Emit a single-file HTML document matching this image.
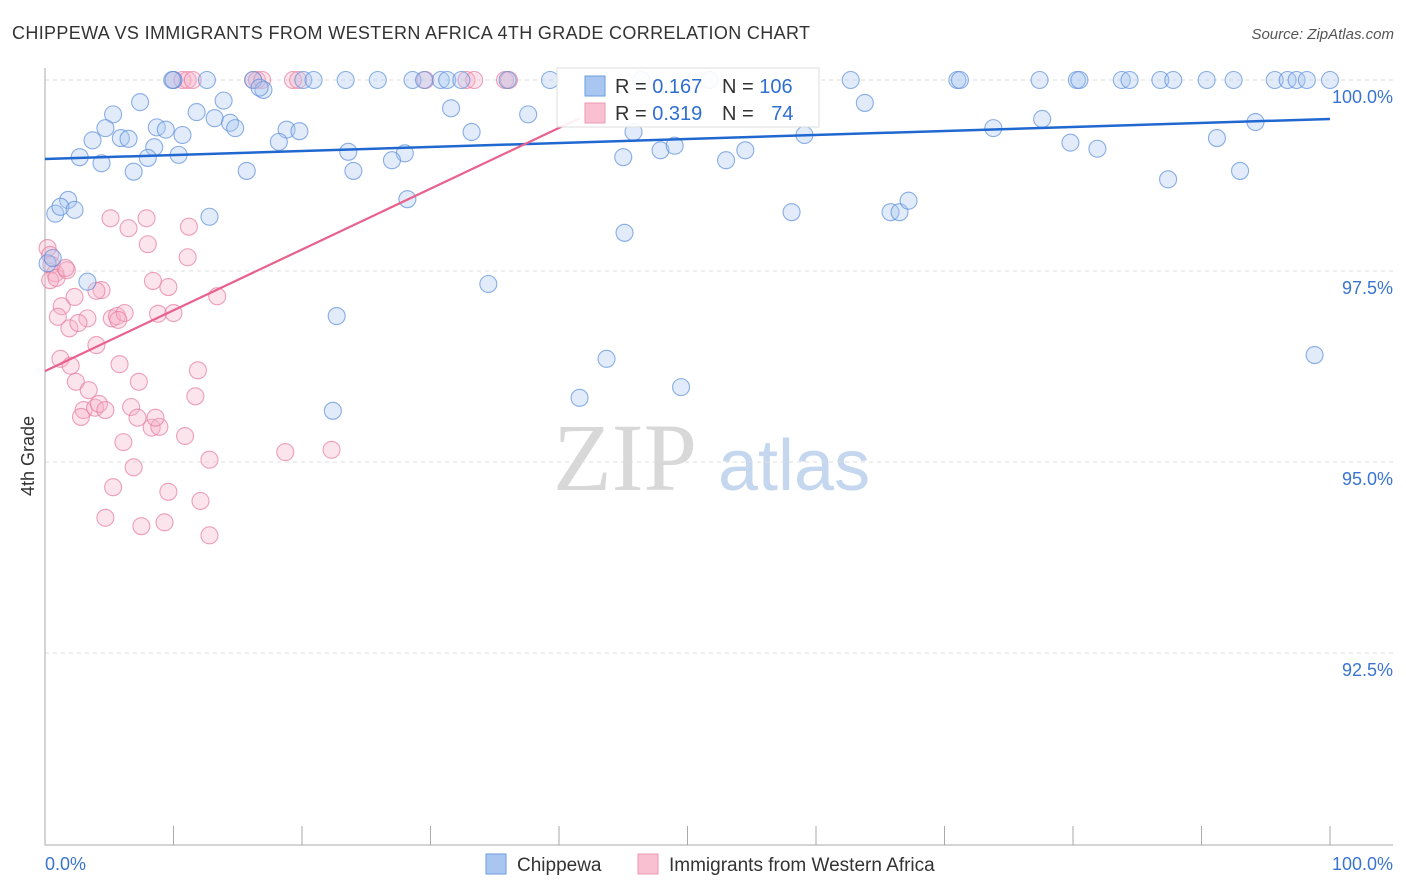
<!DOCTYPE html>
<html><head><meta charset="utf-8"><style>
body{margin:0;background:#fff;font-family:"Liberation Sans",sans-serif}
svg{display:block}
</style></head><body>
<svg width="1406" height="892" viewBox="0 0 1406 892" xmlns="http://www.w3.org/2000/svg">
<text x="12" y="39" font-size="18" fill="#333" textLength="798" lengthAdjust="spacing">CHIPPEWA VS IMMIGRANTS FROM WESTERN AFRICA 4TH GRADE CORRELATION CHART</text>
<text x="1394" y="39" font-size="15" fill="#555" text-anchor="end" font-style="italic">Source: ZipAtlas.com</text>
<g>
<text x="553" y="490" font-family="Liberation Serif,serif" font-size="96" fill="#d8d8d8">ZIP</text>
<text x="718" y="490" font-size="72" fill="#c5d7ee">atlas</text>
</g>
<g id="grid"></g>
<g id="axes"></g>
<g id="marks"></g>
<g>
<rect x="557" y="68" width="262" height="59" fill="#fff" fill-opacity="0.9" stroke="#ddd"/>
<rect x="585" y="76" width="20" height="20" fill="#a9c6f0" stroke="#6a9ee0"/>
<rect x="585" y="103" width="20" height="20" fill="#f8c0d0" stroke="#ee9ab4"/>
<text x="615" y="93" font-size="20" fill="#333">R = <tspan fill="#2f6fd0">0.167</tspan></text>
<text x="722" y="93" font-size="20" fill="#333">N = <tspan fill="#2f6fd0">106</tspan></text>
<text x="615" y="120" font-size="20" fill="#333">R = <tspan fill="#2f6fd0">0.319</tspan></text>
<text x="722" y="120" font-size="20" fill="#333">N = <tspan fill="#2f6fd0" dx="12">74</tspan></text>
</g>
<g>
<rect x="486" y="854" width="20" height="20" fill="#a9c6f0" stroke="#6a9ee0"/>
<text x="517" y="871" font-size="19" fill="#333">Chippewa</text>
<rect x="638" y="854" width="20" height="20" fill="#f8c0d0" stroke="#ee9ab4"/>
<text x="669" y="871" font-size="19" fill="#333">Immigrants from Western Africa</text>
</g>
<text transform="translate(34,456) rotate(-90)" font-size="18" fill="#333" text-anchor="middle">4th Grade</text>
</svg>
<script>
const yTicks=[100,97.5,95,92.5];
const yTickLabels=["100.0%","97.5%","95.0%","92.5%"];
const xTicks=[0,10,20,30,40,50,60,70,80,90,100];
const blueX=[10.0,12.6,16.2,20.1,20.9,23.4,25.9,28.6,29.5,30.8,31.3,32.4,36.0,39.3,46.4,51.7,62.7,71.0,71.2,77.4,80.3,80.5,83.8,84.4,86.8,87.8,90.4,92.5,95.7,96.7,97.4,98.2,100.0,9.9,
17.0,16.7,7.4,13.9,63.8,11.8,31.6,37.6,5.3,13.2,14.4,4.7,8.7,9.4,14.8,3.7,5.9,6.5,10.7,33.2,45.8,18.8,19.8,73.8,77.6,94.2,91.2,18.2,59.1,8.5,2.7,4.4,8.0,10.4,23.6,28.0,27.0,45.0,47.9,49.0,53.0,54.5,79.8,81.9,6.9,15.7,24.0,87.4,93.0,1.8,0.8,1.2,2.3,12.8,28.2,58.1,65.8,66.5,67.2,45.1,3.3,34.5,22.7,43.7,98.8,41.6,49.5,22.4,0.2,0.6];
const blueY=[100,100,100,100,100,100,100,100,100,100,100,100,100,100,100,100,100,100,100,100,100,100,100,100,100,100,100,100,100,100,100,100,100,100,
99.87,99.90,99.71,99.73,99.70,99.58,99.63,99.55,99.55,99.50,99.44,99.37,99.38,99.35,99.37,99.21,99.24,99.23,99.28,99.32,99.32,99.35,99.33,99.37,99.49,99.45,99.24,99.19,99.28,99.12,98.99,98.91,98.98,99.02,99.06,99.04,98.95,98.99,99.08,99.14,98.95,99.08,99.18,99.10,98.80,98.81,98.81,98.70,98.81,98.43,98.25,98.34,98.30,98.21,98.44,98.27,98.27,98.27,98.42,98.00,97.36,97.33,96.91,96.35,96.40,95.84,95.98,95.67,97.60,97.67];
const pinkX=[10.0,10.7,11.1,11.5,16.2,16.5,16.9,19.3,19.7,29.6,32.8,33.4,35.8,36.1,
0.2,0.4,0.5,0.8,0.4,0.9,1.7,1.6,4.4,5.1,7.9,6.5,8.0,11.2,11.1,4.0,8.4,9.6,13.4,1.3,2.3,3.3,1.0,1.9,2.6,5.2,5.6,6.2,5.7,8.8,10.0,4.0,1.2,2.0,2.4,5.8,7.3,11.9,11.7,3.4,3.0,2.8,3.9,4.2,4.7,6.7,7.2,8.3,8.9,8.6,10.9,6.1,6.9,12.8,5.3,9.6,12.1,18.7,22.3,4.7,7.5,9.3,12.8];
const pinkY=[100,100,100,100,100,100,100,100,100,100,100,100,100,100,
97.80,97.71,97.58,97.47,97.38,97.41,97.51,97.54,97.25,98.19,98.19,98.06,97.85,98.08,97.68,97.24,97.37,97.29,97.17,97.04,97.16,96.88,96.90,96.75,96.82,96.88,96.91,96.95,96.86,96.94,96.95,96.53,96.35,96.26,96.05,96.28,96.05,96.20,95.86,95.94,95.68,95.59,95.71,95.76,95.68,95.72,95.58,95.45,95.46,95.58,95.34,95.26,94.93,95.03,94.67,94.61,94.49,95.13,95.16,94.27,94.16,94.21,94.04];
const blueTrend=[[0,98.966],[100,99.49]];
const pinkTrend=[[0,96.19],[41.6,99.5]];
const NS="http://www.w3.org/2000/svg";
const sx=v=>45+v*12.85;
const sy=v=>80+(100-v)*76.4;
function mk(tag,attrs,parent){const e=document.createElementNS(NS,tag);for(const k in attrs)e.setAttribute(k,attrs[k]);document.getElementById(parent).appendChild(e);return e;}
yTicks.forEach((t,i)=>{
 const l=mk('line',{x1:45,x2:1393,y1:sy(t),y2:sy(t),stroke:'#ddd','stroke-dasharray':'4,4'},'grid');
 
 
 const tx=mk('text',{x:1393,y:sy(t)+23,'font-size':18,fill:'#3a74d0','text-anchor':'end'},'grid');
 tx.textContent=yTickLabels[i];
 
 
});
const ax=mk('path',{d:'M45 68V845H1393',fill:'none',stroke:'#aaa'},'axes');


xTicks.forEach(t=>{
 const l=mk('line',{x1:sx(t),x2:sx(t),y1:826,y2:845,stroke:'#aaa'},'axes');
 
 
});
const x0=mk('text',{x:45,y:870,'font-size':18,fill:'#3a74d0'},'axes');x0.textContent='0.0%';


const x1=mk('text',{x:1393,y:870,'font-size':18,fill:'#3a74d0','text-anchor':'end'},'axes');x1.textContent='100.0%';


function pts(X,Y,fill,stroke,name){X.forEach((x,i)=>{
 const c=mk('circle',{cx:sx(x),cy:sy(Y[i]),r:8.5,fill:fill,'fill-opacity':0.35,stroke:stroke,'stroke-opacity':0.7,'stroke-width':1.1},'marks');
 
 
});}
pts(pinkX,pinkY,'#f6b3c8','#e67a9e','pink-point');
pts(blueX,blueY,'#a9c6f0','#5b8fdc','blue-point');
const bl=mk('line',{x1:sx(blueTrend[0][0]),y1:sy(blueTrend[0][1]),x2:sx(blueTrend[1][0]),y2:sy(blueTrend[1][1]),stroke:'#2068d0','stroke-width':2.5},'marks');


const pl=mk('line',{x1:sx(pinkTrend[0][0]),y1:sy(pinkTrend[0][1]),x2:sx(pinkTrend[1][0]),y2:sy(pinkTrend[1][1]),stroke:'#e8608c','stroke-width':2.2},'marks');


</script>
</body></html>
